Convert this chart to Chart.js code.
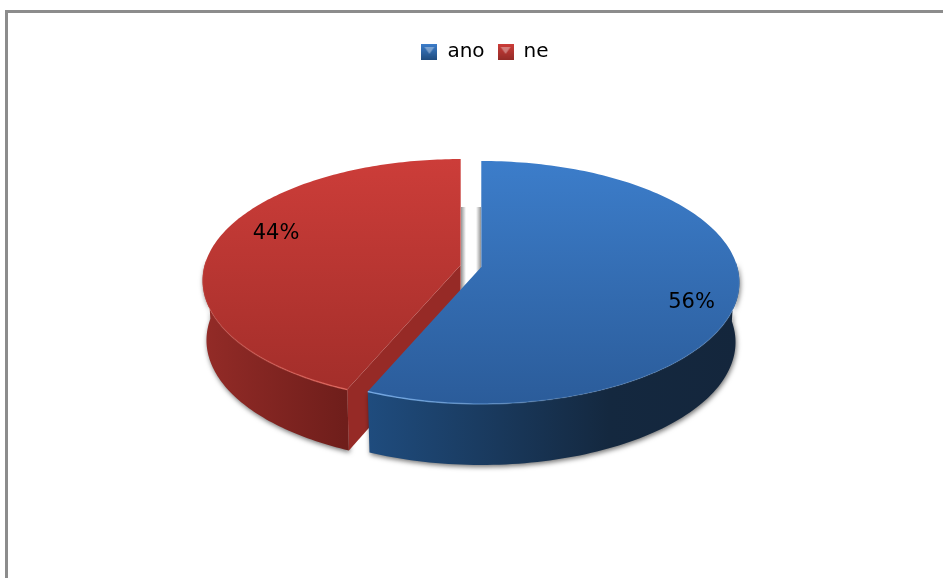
<!DOCTYPE html>
<html>
<head>
<meta charset="utf-8">
<style>
html, body { margin: 0; padding: 0; background: #fff; overflow: hidden; }
#wrap { position: relative; width: 943px; height: 578px; }
</style>
<script src="https://cdn.jsdelivr.net/npm/chart.js@4/dist/chart.umd.min.js"></script>
</head>
<body>
<div id="wrap"><canvas id="pieChart" width="943" height="578"></canvas></div>
<script>
const categories = ['ano', 'ne'];
// the labels only give whole percents, the slice edge sits a bit past 56
const shares = [56.4, 43.6];

const fontName = '"DejaVu Sans", sans-serif';

// look of each slice, same order as categories
const looks = [
    { top: ['#3c7dca', '#2b5c9a'], side: ['#1f4c7e', '#14283f', '#14263c'], stop: 0.65, rim: 'rgba(125,180,240,0.9)', labelAt: [691.5, 303] },
    { top: ['#cc3d39', '#a32e2a'], side: ['#932b27', '#6f1e1b', '#6f1e1b'], stop: 0.55, cut: '#962a26', rim: 'rgba(235,110,100,0.8)', labelAt: [276, 234] }
];

// the tilted pie: a circle seen through a slight perspective
const view = { cx: 471, cy: 266, a: 256, b: 119.5, persp: 0.1276, explode: 0.041, depth: 58, shrink: 0.985 };

function project(u, v, low, off) {
    const w = 1 - view.persp * v;
    let x = view.a * u / w;
    let y = view.b * v / w;
    if (low) {
        x *= view.shrink;
        y += view.depth + 1.5 * (v + 1);
    }
    return [view.cx + x + off[0], view.cy + y + off[1]];
}

function tracePoints(ctx, pts) {
    pts.forEach((p, i) => {
        if (i === 0) ctx.moveTo(p[0], p[1]);
        else ctx.lineTo(p[0], p[1]);
    });
}

function sliceRim(arc) {
    const rim = [];
    const steps = 160;
    for (let i = 0; i <= steps; i++) {
        const t = arc.startAngle + (arc.endAngle - arc.startAngle) * i / steps;
        rim.push([Math.cos(t), Math.sin(t)]);
    }
    return rim;
}

function drawSlice(ctx, arc, look, cutAtStart) {
    const mid = (arc.startAngle + arc.endAngle) / 2;
    const off = [view.explode * view.a * Math.cos(mid), view.explode * view.b * Math.sin(mid)];
    const rim = sliceRim(arc);
    const topRim = rim.map(p => project(p[0], p[1], false, off));
    const lowRim = rim.map(p => project(p[0], p[1], true, off));
    const apexTop = project(0, 0, false, off);
    const apexLow = project(0, 0, true, off);

    // outer wall, only the front part throws a shadow
    const front = rim.map((p, i) => i).filter(i => rim[i][1] > -0.05);
    const frontTop = front.map(i => topRim[i]);
    const frontLow = front.map(i => lowRim[i]);
    const xs = topRim.map(p => p[0]);
    const minX = Math.min(...xs), maxX = Math.max(...xs);
    const wall = ctx.createLinearGradient(minX, 0, maxX, 0);
    wall.addColorStop(0, look.side[0]);
    wall.addColorStop(look.stop, look.side[1]);
    wall.addColorStop(1, look.side[2]);
    ctx.save();
    ctx.shadowColor = 'rgba(0,0,0,0.55)';
    ctx.shadowBlur = 5;
    ctx.shadowOffsetY = 2;
    ctx.shadowOffsetX = 1;
    ctx.fillStyle = wall;
    ctx.beginPath();
    tracePoints(ctx, frontTop.concat(frontLow.slice().reverse()));
    ctx.closePath();
    ctx.fill();
    ctx.restore();

    // cut face towards the viewer
    if (look.cut) {
        ctx.fillStyle = look.cut;
        ctx.beginPath();
        tracePoints(ctx, [apexTop, topRim[0], lowRim[0], apexLow]);
        ctx.closePath();
        ctx.fill();
    }

    // top face
    const ys = topRim.map(p => p[1]);
    const face = ctx.createLinearGradient(0, Math.min(...ys), 0, Math.max(...ys));
    face.addColorStop(0, look.top[0]);
    face.addColorStop(1, look.top[1]);
    ctx.fillStyle = face;
    ctx.beginPath();
    tracePoints(ctx, [apexTop].concat(topRim));
    ctx.closePath();
    ctx.fill();

    // light edge that fades away from the cut
    const startX = cutAtStart ? topRim[0][0] : topRim[topRim.length - 1][0];
    const endX = cutAtStart ? startX - 140 : startX + 190;
    const shine = ctx.createLinearGradient(startX, 0, endX, 0);
    shine.addColorStop(0, look.rim);
    shine.addColorStop(1, look.rim.replace(/[\d.]+\)$/, '0.15)'));
    ctx.strokeStyle = shine;
    ctx.lineWidth = 1.5;
    ctx.beginPath();
    tracePoints(ctx, frontTop);
    ctx.stroke();
}

function gapShade(ctx, x0, x1, y0, y1) {
    const g = ctx.createLinearGradient(x0, 0, x1, 0);
    g.addColorStop(0, 'rgba(120,120,120,0.8)');
    g.addColorStop(1, 'rgba(120,120,120,0)');
    ctx.fillStyle = g;
    ctx.fillRect(Math.min(x0, x1), y0, Math.abs(x1 - x0), y1 - y0);
}

const tiltedPie = {
    id: 'tiltedPie',
    beforeDraw(chart) {
        const ctx = chart.ctx;
        ctx.save();
        ctx.fillStyle = '#8c8c8c';
        ctx.fillRect(5, 10, 938, 3);
        ctx.fillRect(5, 10, 3, 568);
        ctx.restore();
    },
    beforeDatasetDraw(chart, args) {
        const ctx = chart.ctx;
        const arcs = chart.getDatasetMeta(args.index).data;
        ctx.save();
        drawSlice(ctx, arcs[1], looks[1], true);
        gapShade(ctx, 461, 466, 207, 290);
        gapShade(ctx, 481, 476, 207, 280);
        drawSlice(ctx, arcs[0], looks[0], false);
        ctx.fillStyle = '#000';
        ctx.font = '21px ' + fontName;
        ctx.textAlign = 'center';
        ctx.textBaseline = 'middle';
        shares.forEach((share, i) => {
            ctx.fillText(Math.round(share) + '%', looks[i].labelAt[0], looks[i].labelAt[1]);
        });
        ctx.restore();
        return false;
    }
};

function legendIcon(look) {
    const size = 16;
    const c = document.createElement('canvas');
    c.width = size;
    c.height = size;
    const x = c.getContext('2d');
    const g = x.createLinearGradient(0, 0, 0, size);
    g.addColorStop(0, look.top[0]);
    g.addColorStop(1, look.side[0]);
    x.fillStyle = g;
    x.fillRect(0, 0, size, size);
    x.fillStyle = 'rgba(255,255,255,0.35)';
    x.beginPath();
    x.moveTo(3, 3);
    x.lineTo(13, 3);
    x.lineTo(8, 10);
    x.closePath();
    x.fill();
    return c;
}

new Chart(document.getElementById('pieChart').getContext('2d'), {
    type: 'pie',
    data: {
        labels: categories,
        datasets: [{
            data: shares,
            backgroundColor: looks.map(l => l.top[0])
        }]
    },
    options: {
        responsive: false,
        animation: false,
        layout: { padding: { top: 29, left: 27 } },
        plugins: {
            tooltip: { enabled: false },
            legend: {
                position: 'top',
                labels: {
                    color: '#000',
                    font: { family: fontName, size: 20 },
                    usePointStyle: true,
                    pointStyleWidth: 16,
                    padding: 13,
                    generateLabels: () => categories.map((name, i) => ({
                        text: name,
                        pointStyle: legendIcon(looks[i]),
                        fillStyle: looks[i].top[0],
                        strokeStyle: looks[i].top[0],
                        lineWidth: 0,
                        index: i
                    }))
                }
            }
        }
    },
    plugins: [tiltedPie]
});
</script>
</body>
</html>
